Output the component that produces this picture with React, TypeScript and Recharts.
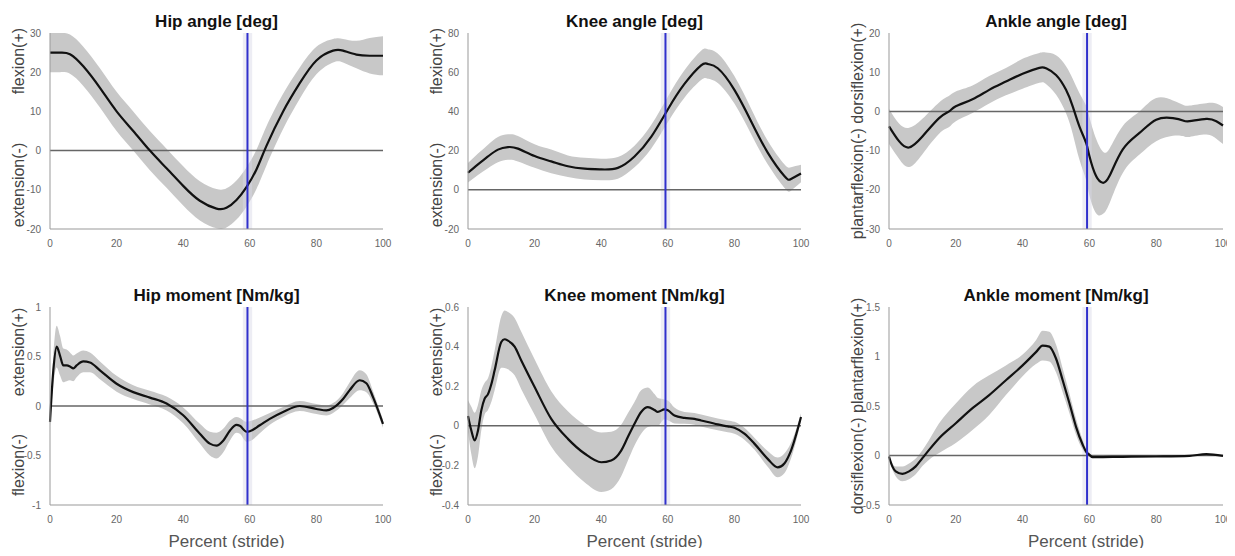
import { ComposedChart, Area, Line, XAxis, YAxis, ReferenceLine, ReferenceArea } from 'recharts'

// gait curves, mean and SD (percent of stride on x)
const X_TICKS = [0, 20, 40, 60, 80, 100]
const TOE_OFF = 59.3
const TOE_OFF_SD = [57.9, 60.7]

const HIP_ANG_X = [0, 3, 6, 10, 15, 20, 25, 30, 35, 40, 45, 50, 53, 56, 59, 62, 65, 70, 75, 80, 85, 88, 92, 96, 100]
const HIP_ANG_MEAN = [25, 25, 24.6, 21.5, 16, 10, 5, 0, -4.5, -9, -12.8, -14.8, -14.6, -12.6, -9.3, -4.8, 1.2, 10, 17.2, 23, 25.5, 25.5, 24.5, 24.2, 24.2]
const HIP_ANG_SD = [5, 5, 5, 5, 5, 5, 5, 5, 5, 5, 5, 5, 5, 5, 5, 5, 5, 4.5, 4, 3.5, 3, 3, 3.5, 4.5, 5]
const HIP_ANG_TICKS = [-20, -10, 0, 10, 20, 30]

const KNEE_ANG_X = [0, 3, 6, 9, 12, 15, 20, 25, 30, 35, 40, 45, 50, 55, 60, 65, 70, 72, 75, 80, 85, 90, 95, 97, 100]
const KNEE_ANG_MEAN = [8.7, 13, 17, 20.5, 21.8, 21, 17.2, 14.5, 12, 10.8, 10.4, 11.2, 17, 27, 41, 54, 63.5, 64.2, 62, 51, 35, 19, 7, 5.5, 8.3]
const KNEE_ANG_SD = [5, 5.5, 6, 6.5, 6.5, 6.5, 6, 6, 5.5, 5.5, 5.5, 5.5, 5.5, 6, 6.5, 7, 7.5, 7.5, 7.5, 7, 6.5, 6, 6, 6, 4.5]
const KNEE_ANG_TICKS = [-20, 0, 20, 40, 60, 80]

const ANKLE_ANG_X = [0, 3, 6, 10, 15, 18, 20, 25, 30, 35, 40, 45, 47, 50, 53, 55, 57, 59, 60, 62, 64, 66, 70, 75, 80, 85, 88, 90, 95, 98, 100]
const ANKLE_ANG_MEAN = [-3.8, -7.6, -9.2, -6.4, -1.7, 0, 1.3, 3.1, 5.5, 7.6, 9.6, 11.1, 11, 9.3, 5.5, 1.3, -3.8, -8, -11.4, -16.5, -18.2, -16.5, -9.7, -5.5, -2.1, -1.7, -2.3, -2.5, -1.9, -2.5, -3.6]
const ANKLE_ANG_SD = [4.5, 4.5, 5, 4.5, 4, 4, 3.8, 3.5, 3.5, 3.5, 3.8, 3.8, 4, 5, 6, 7, 8.5, 9.5, 10, 9.5, 8, 7, 6, 5.5, 5.5, 4.5, 4, 4, 4, 4.5, 4.7]
const ANKLE_ANG_TICKS = [-30, -20, -10, 0, 10, 20]

const HIP_MOM_X = [0, 1, 2, 3, 4, 5, 6, 7, 8, 10, 12, 15, 20, 25, 30, 35, 40, 45, 48, 50, 52, 54, 56, 57, 59, 60, 63, 66, 70, 75, 80, 83, 85, 88, 90, 93, 95, 97, 100]
const HIP_MOM_MEAN = [-0.16, 0.36, 0.6, 0.51, 0.41, 0.41, 0.4, 0.38, 0.41, 0.45, 0.44, 0.36, 0.225, 0.14, 0.085, 0.025, -0.094, -0.28, -0.38, -0.4, -0.35, -0.25, -0.19, -0.2, -0.26, -0.255, -0.195, -0.13, -0.06, 0, -0.03, -0.045, -0.02, 0.07, 0.16, 0.26, 0.23, 0.09, -0.18]
const HIP_MOM_SD = [0.05, 0.15, 0.21, 0.2, 0.17, 0.16, 0.14, 0.13, 0.12, 0.11, 0.1, 0.09, 0.08, 0.07, 0.07, 0.07, 0.08, 0.1, 0.12, 0.13, 0.12, 0.1, 0.08, 0.08, 0.1, 0.1, 0.08, 0.06, 0.05, 0.05, 0.05, 0.05, 0.05, 0.06, 0.08, 0.1, 0.09, 0.06, 0.04]
const HIP_MOM_TICKS = [-1, -0.5, 0, 0.5, 1]

const KNEE_MOM_X = [0, 1, 2, 3, 4, 5, 6, 7, 8, 10, 11, 12, 14, 16, 20, 25, 30, 35, 40, 43, 46, 48, 50, 52, 54, 56, 57, 59, 60, 62, 65, 68, 70, 75, 78, 80, 83, 86, 90, 93, 95, 97, 100]
const KNEE_MOM_MEAN = [0.05, -0.024, -0.074, -0.024, 0.078, 0.137, 0.16, 0.21, 0.28, 0.423, 0.437, 0.43, 0.4, 0.33, 0.196, 0.035, -0.066, -0.14, -0.184, -0.175, -0.125, -0.057, 0.01, 0.07, 0.094, 0.08, 0.07, 0.083, 0.078, 0.052, 0.04, 0.035, 0.027, 0.007, -0.003, -0.01, -0.04, -0.09, -0.167, -0.21, -0.19, -0.125, 0.044]
const KNEE_MOM_SD = [0.08, 0.12, 0.14, 0.13, 0.1, 0.08, 0.08, 0.09, 0.1, 0.13, 0.145, 0.145, 0.145, 0.145, 0.14, 0.14, 0.14, 0.145, 0.15, 0.145, 0.13, 0.12, 0.11, 0.11, 0.1, 0.08, 0.07, 0.05, 0.05, 0.04, 0.03, 0.03, 0.03, 0.03, 0.03, 0.03, 0.03, 0.03, 0.04, 0.05, 0.05, 0.04, 0.02]
const KNEE_MOM_TICKS = [-0.4, -0.2, 0, 0.2, 0.4, 0.6]

const ANKLE_MOM_X = [0, 1, 2, 4, 6, 8, 10, 12, 15, 20, 25, 30, 35, 40, 44, 46, 48, 50, 52, 54, 56, 58, 59, 60, 61, 62, 70, 80, 90, 95, 100]
const ANKLE_MOM_MEAN = [-0.01, -0.11, -0.16, -0.185, -0.16, -0.11, -0.027, 0.057, 0.175, 0.326, 0.478, 0.61, 0.76, 0.91, 1.044, 1.11, 1.1, 0.98, 0.76, 0.53, 0.29, 0.108, 0.04, 0.007, -0.017, -0.017, -0.013, -0.01, -0.003, 0.013, -0.003]
const ANKLE_MOM_SD = [0.01, 0.03, 0.05, 0.075, 0.08, 0.08, 0.08, 0.1, 0.15, 0.2, 0.22, 0.2, 0.15, 0.11, 0.12, 0.15, 0.15, 0.14, 0.12, 0.1, 0.08, 0.05, 0.03, 0.02, 0.01, 0.005, 0.005, 0.005, 0.005, 0.005, 0.005]
const ANKLE_MOM_TICKS = [-0.5, 0, 0.5, 1, 1.5]

const FONT = '"Liberation Sans", Arial, Helvetica, sans-serif'

const COLS = [
  { left: 50, right: 383 },
  { left: 468, right: 801 },
  { left: 889, right: 1223 },
]
const ROWS = [
  { top: 33, bottom: 229 },
  { top: 307, bottom: 505 },
]

const PANELS = [
  { title: 'Hip angle [deg]', x: HIP_ANG_X, mean: HIP_ANG_MEAN, sd: HIP_ANG_SD, ticks: HIP_ANG_TICKS, row: 0, col: 0, curve: 'natural', yUp: 'flexion(+)', yDown: 'extension(-)' },
  { title: 'Knee angle [deg]', x: KNEE_ANG_X, mean: KNEE_ANG_MEAN, sd: KNEE_ANG_SD, ticks: KNEE_ANG_TICKS, row: 0, col: 1, curve: 'natural', yUp: 'flexion(+)', yDown: 'extension(-)' },
  { title: 'Ankle angle [deg]', x: ANKLE_ANG_X, mean: ANKLE_ANG_MEAN, sd: ANKLE_ANG_SD, ticks: ANKLE_ANG_TICKS, row: 0, col: 2, curve: 'natural', yLabel: 'plantarflexion(-) dorsiflexion(+)' },
  { title: 'Hip moment [Nm/kg]', x: HIP_MOM_X, mean: HIP_MOM_MEAN, sd: HIP_MOM_SD, ticks: HIP_MOM_TICKS, row: 1, col: 0, curve: 'monotone', yUp: 'extension(+)', yDown: 'flexion(-)' },
  { title: 'Knee moment [Nm/kg]', x: KNEE_MOM_X, mean: KNEE_MOM_MEAN, sd: KNEE_MOM_SD, ticks: KNEE_MOM_TICKS, row: 1, col: 1, curve: 'monotone', yUp: 'extension(+)', yDown: 'flexion(-)' },
  { title: 'Ankle moment [Nm/kg]', x: ANKLE_MOM_X, mean: ANKLE_MOM_MEAN, sd: ANKLE_MOM_SD, ticks: ANKLE_MOM_TICKS, row: 1, col: 2, curve: 'monotone', yLabel: 'dorsiflexion(-) plantarflexion(+)' },
]

function RotatedText({ text, cx, cy }: { text: string; cx: number; cy: number }) {
  return (
    <div
      style={{
        position: 'absolute',
        left: cx,
        top: cy,
        transform: 'translate(-50%, -50%) rotate(-90deg)',
        whiteSpace: 'nowrap',
        fontSize: 16,
        color: '#444',
      }}
    >
      {text}
    </div>
  )
}

function GaitPanel({ p }: { p: (typeof PANELS)[number] }) {
  const c = COLS[p.col]
  const r = ROWS[p.row]
  const rows = p.x.map((v, i) => ({
    x: v,
    mean: p.mean[i],
    band: [p.mean[i] - p.sd[i], p.mean[i] + p.sd[i]],
  }))
  const lo = p.ticks[0]
  const hi = p.ticks[p.ticks.length - 1]
  const plotW = c.right - c.left
  const plotH = r.bottom - r.top
  const labelX = c.left - 31
  const midX = (c.left + c.right) / 2
  const curve = p.curve as 'natural' | 'monotone'

  return (
    <>
      <div
        style={{
          position: 'absolute',
          left: midX,
          top: p.row === 0 ? 22 : 296,
          transform: 'translate(-50%, -50%)',
          fontWeight: 'bold',
          fontSize: 17,
          color: '#111',
          whiteSpace: 'nowrap',
        }}
      >
        {p.title}
      </div>
      {p.yLabel ? (
        <RotatedText text={p.yLabel} cx={labelX} cy={(r.top + r.bottom) / 2} />
      ) : (
        <>
          <RotatedText text={p.yUp!} cx={labelX} cy={r.top + (p.row === 0 ? 28 : 45)} />
          <RotatedText text={p.yDown!} cx={labelX} cy={r.top + (p.row === 0 ? 152 : 158)} />
        </>
      )}
      {p.row === 1 && (
        <div
          style={{
            position: 'absolute',
            left: midX + (p.col === 2 ? 30 : 10),
            top: 542,
            transform: 'translate(-50%, -50%)',
            fontSize: 17,
            color: '#555',
            whiteSpace: 'nowrap',
          }}
        >
          Percent (stride)
        </div>
      )}
      <div style={{ position: 'absolute', left: c.left - 40, top: r.top - 10 }}>
        <ComposedChart
          width={plotW + 50}
          height={plotH + 35}
          data={rows}
          margin={{ top: 10, right: 10, bottom: 5, left: 0 }}
        >
          <XAxis
            dataKey="x"
            type="number"
            domain={[0, 100]}
            ticks={X_TICKS}
            height={20}
            stroke="#999"
            tickLine={false}
            tickMargin={5}
            tick={{ fontSize: 10, fill: '#666', fontFamily: FONT }}
          />
          <YAxis
            type="number"
            domain={[lo, hi]}
            ticks={p.ticks}
            width={40}
            allowDataOverflow
            stroke="#999"
            tickLine={false}
            tickMargin={3}
            tick={{ fontSize: 10, fill: '#666', fontFamily: FONT }}
          />
          <Area
            type={curve}
            dataKey="band"
            stroke="none"
            fill="#c8c8c8"
            fillOpacity={1}
            isAnimationActive={false}
          />
          <ReferenceArea x1={TOE_OFF_SD[0]} x2={TOE_OFF_SD[1]} fill="#d6d6e6" fillOpacity={0.45} stroke="none" />
          <ReferenceLine y={0} stroke="#666" strokeWidth={1.5} />
          <Line
            type={curve}
            dataKey="mean"
            stroke="#111"
            strokeWidth={2.2}
            dot={false}
            isAnimationActive={false}
          />
          <ReferenceLine x={TOE_OFF} stroke="#3030cc" strokeWidth={2} />
        </ComposedChart>
      </div>
    </>
  )
}

export default function App() {
  return (
    <div
      style={{
        position: 'relative',
        width: 1235,
        height: 556,
        margin: -8,
        background: '#fff',
        fontFamily: FONT,
        overflow: 'hidden',
      }}
    >
      {PANELS.map((p) => (
        <GaitPanel key={p.title} p={p} />
      ))}
    </div>
  )
}
